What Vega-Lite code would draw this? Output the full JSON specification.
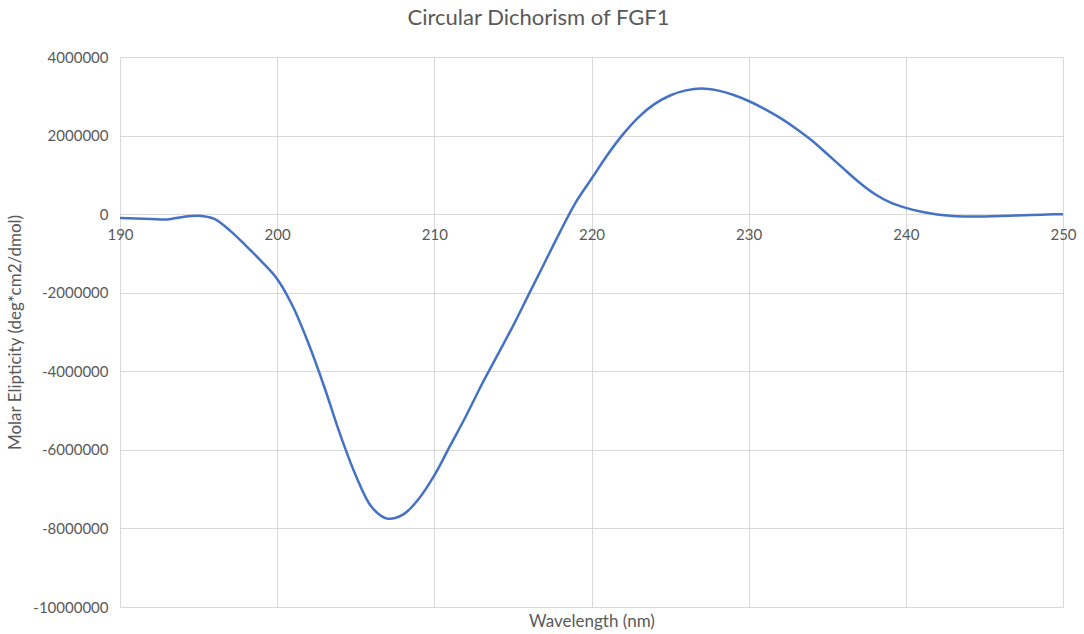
{
  "$schema": "https://vega.github.io/schema/vega-lite/v6.json",
  "autosize": "none",
  "width": 943,
  "height": 550,
  "padding": {"left": 120, "top": 57, "right": 21, "bottom": 27},
  "background": "white",
  "title": {
    "text": "Circular Dichorism of FGF1",
    "font": "Lato",
    "fontSize": 22,
    "fontWeight": "normal",
    "color": "#595959",
    "anchor": "middle",
    "dx": -53,
    "offset": 20
  },
  "config": {
    "view": {"stroke": null},
    "font": "Lato"
  },
  "data": {
    "values": [
      {"nm": 190, "v": -100000},
      {"nm": 191, "v": -110000},
      {"nm": 192, "v": -125000},
      {"nm": 193, "v": -135000},
      {"nm": 194, "v": -70000},
      {"nm": 195, "v": -40000},
      {"nm": 196, "v": -120000},
      {"nm": 197, "v": -420000},
      {"nm": 198, "v": -800000},
      {"nm": 199, "v": -1200000},
      {"nm": 200, "v": -1650000},
      {"nm": 201, "v": -2350000},
      {"nm": 202, "v": -3300000},
      {"nm": 203, "v": -4400000},
      {"nm": 204, "v": -5600000},
      {"nm": 205, "v": -6650000},
      {"nm": 206, "v": -7450000},
      {"nm": 207, "v": -7750000},
      {"nm": 208, "v": -7650000},
      {"nm": 209, "v": -7250000},
      {"nm": 210, "v": -6650000},
      {"nm": 211, "v": -5900000},
      {"nm": 212, "v": -5150000},
      {"nm": 213, "v": -4350000},
      {"nm": 214, "v": -3600000},
      {"nm": 215, "v": -2850000},
      {"nm": 216, "v": -2050000},
      {"nm": 217, "v": -1250000},
      {"nm": 218, "v": -450000},
      {"nm": 219, "v": 300000},
      {"nm": 220, "v": 900000},
      {"nm": 221, "v": 1500000},
      {"nm": 222, "v": 2030000},
      {"nm": 223, "v": 2470000},
      {"nm": 224, "v": 2800000},
      {"nm": 225, "v": 3020000},
      {"nm": 226, "v": 3150000},
      {"nm": 227, "v": 3200000},
      {"nm": 228, "v": 3150000},
      {"nm": 229, "v": 3040000},
      {"nm": 230, "v": 2880000},
      {"nm": 231, "v": 2680000},
      {"nm": 232, "v": 2450000},
      {"nm": 233, "v": 2180000},
      {"nm": 234, "v": 1880000},
      {"nm": 235, "v": 1530000},
      {"nm": 236, "v": 1170000},
      {"nm": 237, "v": 820000},
      {"nm": 238, "v": 520000},
      {"nm": 239, "v": 300000},
      {"nm": 240, "v": 160000},
      {"nm": 241, "v": 60000},
      {"nm": 242, "v": -10000},
      {"nm": 243, "v": -45000},
      {"nm": 244, "v": -58000},
      {"nm": 245, "v": -58000},
      {"nm": 246, "v": -50000},
      {"nm": 247, "v": -35000},
      {"nm": 248, "v": -22000},
      {"nm": 249, "v": -10000},
      {"nm": 250, "v": 0}
    ]
  },
  "mark": {"type": "line", "interpolate": "catmull-rom", "color": "#4472C4", "strokeWidth": 2.5},
  "encoding": {
    "x": {
      "field": "nm",
      "type": "quantitative",
      "scale": {"domain": [190, 250], "nice": false, "zero": false},
      "axis": {
        "title": "Wavelength (nm)",
        "values": [190, 200, 210, 220, 230, 240, 250],
        "format": "d",
        "offset": -394,
        "domain": false,
        "ticks": false,
        "grid": true,
        "gridColor": "#d9d9d9",
        "gridWidth": 1,
        "labelFont": "Lato",
        "labelFontSize": 15,
        "labelColor": "#595959",
        "labelPadding": 14,
        "labelOverlap": false,
        "labelBound": false,
        "labelFlush": false,
        "titleFont": "Lato",
        "titleFontSize": 17,
        "titleFontWeight": "normal",
        "titleColor": "#595959",
        "titleY": 400,
        "titleBaseline": "top"
      }
    },
    "y": {
      "field": "v",
      "type": "quantitative",
      "scale": {"domain": [-10000000, 4000000], "nice": false},
      "axis": {
        "title": "Molar Elipticity (deg*cm2/dmol)",
        "values": [-10000000, -8000000, -6000000, -4000000, -2000000, 0, 2000000, 4000000],
        "labelExpr": "'' + datum.value",
        "domain": false,
        "ticks": false,
        "grid": true,
        "gridColor": "#d9d9d9",
        "gridWidth": 1,
        "labelFont": "Lato",
        "labelFontSize": 15,
        "labelColor": "#595959",
        "labelPadding": 12,
        "titleFont": "Lato",
        "titleFontSize": 17,
        "titleFontWeight": "normal",
        "titleColor": "#595959",
        "titlePadding": 8
      }
    }
  }
}
